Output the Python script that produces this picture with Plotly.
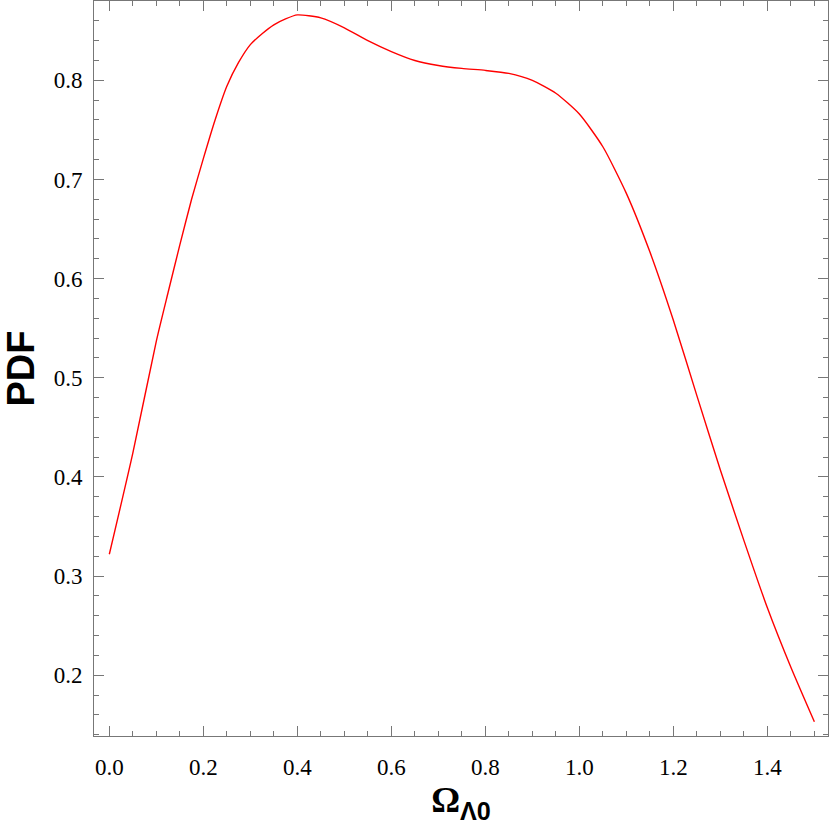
import plotly.graph_objects as go

# PDF curve
omega = [0.000, 0.050, 0.100, 0.125, 0.150, 0.175, 0.200, 0.225, 0.250, 0.275,
         0.300, 0.325, 0.350, 0.375, 0.400, 0.450, 0.500, 0.550, 0.600, 0.650,
         0.700, 0.750, 0.800, 0.850, 0.900, 0.950, 1.000, 1.050, 1.100, 1.150,
         1.200, 1.250, 1.300, 1.350, 1.400, 1.450, 1.500]
pdf = [0.322, 0.424, 0.537, 0.586, 0.634, 0.680, 0.721, 0.760, 0.794, 0.818,
       0.836, 0.847, 0.856, 0.862, 0.866, 0.863, 0.853, 0.840, 0.829, 0.820,
       0.815, 0.812, 0.810, 0.807, 0.800, 0.787, 0.766, 0.733, 0.686, 0.627,
       0.558, 0.482, 0.407, 0.336, 0.268, 0.208, 0.153]

x_ticks = [0.0, 0.2, 0.4, 0.6, 0.8, 1.0, 1.2, 1.4]
y_ticks = [0.2, 0.3, 0.4, 0.5, 0.6, 0.7, 0.8]

frame = "#777777"
serif = "Liberation Serif, Times New Roman, serif"
sans = "Liberation Sans, Arial, sans-serif"

fig = go.Figure(go.Scatter(
    x=omega, y=pdf, mode="lines",
    line=dict(color="#ff0000", width=1.4, shape="spline", smoothing=0.6),
    showlegend=False,
))

axis_common = dict(
    showgrid=False, zeroline=False,
    showline=True, linecolor=frame, linewidth=1, mirror="ticks",
    ticks="inside", ticklen=10, tickcolor=frame, tickwidth=1.2,
    tickfont=dict(family=serif, size=23, color="black"),
)

x_title = ("<b>Ω</b><sub><span style='font-family:Liberation Sans, Arial, sans-serif'>"
           "<b>Λ0</b></span></sub>")

fig.update_xaxes(
    range=[-0.0326, 1.529], tickvals=x_ticks,
    ticktext=[f"{v:.1f}" for v in x_ticks],
    minor=dict(dtick=0.05, tick0=0, ticks="inside", ticklen=5, tickcolor=frame),
    ticklabelstandoff=10,
    title=dict(text=x_title, font=dict(family=serif, size=36, color="black"), standoff=8),
    **axis_common,
)
fig.update_yaxes(
    range=[0.1387, 0.880], tickvals=y_ticks,
    ticktext=[f"{v:.1f}" for v in y_ticks],
    minor=dict(dtick=0.02, tick0=0, ticks="inside", ticklen=5, tickcolor=frame),
    ticklabelstandoff=6,
    title=dict(text="<b>PDF</b>", font=dict(family=sans, size=38, color="black"), standoff=9),
    **axis_common,
)

fig.update_layout(
    width=830, height=834,
    margin=dict(l=94, r=2, t=1, b=98, autoexpand=False),
    plot_bgcolor="white", paper_bgcolor="white",
)

fig.write_html("out.html", config={"displayModeBar": False},
               post_script="document.body.style.margin='0px';")
